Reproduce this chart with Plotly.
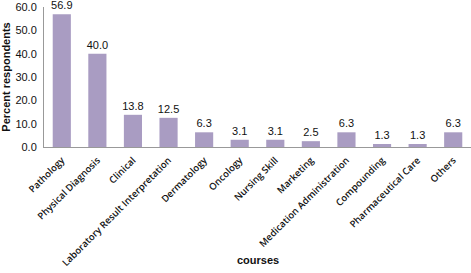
import plotly.graph_objects as go

courses = ["Pathology", "Physical Diagnosis", "Clinical", "Laboratory Result Interpretation",
           "Dermatology", "Oncology", "Nursing Skill", "Marketing", "Medication Administration",
           "Compounding", "Pharmaceutical Care", "Others"]
percent = [56.9, 40.0, 13.8, 12.5, 6.3, 3.1, 3.1, 2.5, 6.3, 1.3, 1.3, 6.3]
y_ticks = [0, 10, 20, 30, 40, 50, 60]

fig = go.Figure(go.Bar(
    x=courses, y=percent,
    marker=dict(color="#A99CC2", line=dict(width=0)),
    text=[f"{v:.1f}" for v in percent], textposition="outside",
    textfont=dict(family="Liberation Sans, Arial", size=11, color="#111"),
    constraintext="none",
    cliponaxis=False,
))
fig.update_layout(
    width=471, height=273,
    margin=dict(l=44, r=0, t=7, b=126, autoexpand=False),
    paper_bgcolor="white", plot_bgcolor="white",
    bargap=0.49, showlegend=False,
    font=dict(family="Liberation Sans, Arial", color="#111"),
    xaxis=dict(
        tickangle=-45, automargin=False,
        tickfont=dict(family="Open Sans, Liberation Sans", size=9.5, color="#111", weight=600),
        showline=True, linecolor="#999", linewidth=1, showgrid=False, ticks="",
        ticklabelstandoff=3,
    ),
    yaxis=dict(
        range=[0, 60], tickvals=y_ticks, ticktext=[f"{v:.1f}" for v in y_ticks],
        tickfont=dict(size=11, color="#111"), automargin=False,
        showline=True, linecolor="#999", linewidth=1, showgrid=False, ticks="", zeroline=False,
        ticklabelstandoff=4,
        title=dict(text="<b>Percent respondents</b>", font=dict(size=11), standoff=4),
    ),
    annotations=[dict(text="<b>courses</b>", xref="paper", yref="paper", x=0.5, y=-0.807,
                      xanchor="center", yanchor="middle", showarrow=False,
                      font=dict(size=11, color="#111"))],
)
fig.write_html("out.html", config={"displayModeBar": False},
               post_script="document.body.style.margin='0';")
